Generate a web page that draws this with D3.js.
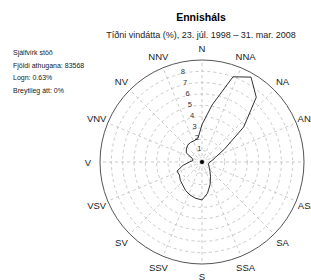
<!DOCTYPE html>
<html>
<head>
<meta charset="utf-8">
<script src="https://cdn.jsdelivr.net/npm/d3@7"></script>
<style>
  body { margin: 0; background: #fff; }
  svg { display: block; font-family: "Liberation Sans", Arial, sans-serif; }
</style>
</head>
<body>
<div id="chart"></div>
<script>
// Wind direction frequency (%) per 10 degree sector
const directions = [0, 10, 20, 30, 40, 50, 60, 70, 80, 90, 100, 110,
    120, 130, 140, 150, 160, 170, 180, 190, 200, 210, 220, 230,
    240, 250, 260, 270, 280, 290, 300, 310, 320, 330, 340, 350];
const frequency = [3.3, 5.1, 8.0, 8.65, 7.45, 4.8, 2.3, 1.3, 0.95, 0.7, 0.6, 0.6,
    0.7, 0.85, 1.1, 1.5, 2.1, 2.8, 3.35, 3.25, 3.1, 2.9, 2.65, 2.5,
    2.3, 2.35, 1.7, 1.1, 0.8, 0.9, 1.6, 1.8, 1.95, 2.0, 2.0, 2.1];

const compassLabels = ['N', 'NNA', 'NA', 'ANA', 'A', 'ASA', 'SA', 'SSA',
    'S', 'SSV', 'SV', 'VSV', 'V', 'VNV', 'NV', 'NNV'];
const ringTicks = [1, 2, 3, 4, 5, 6, 7, 8];
const infoLines = ['Sjálfvirk stöð', 'Fjöldi athugana: 83568', 'Logn: 0.63%', 'Breytileg átt: 0%'];

const width = 311, height = 280;
const cx = 202, cy = 162;
const rMax = 9;

const svg = d3.select('#chart')
    .append('svg')
    .attr('width', width)
    .attr('height', height);

// Titles
svg.append('text')
    .attr('x', 201).attr('y', 21)
    .attr('text-anchor', 'middle')
    .attr('font-size', '10.5px')
    .attr('font-weight', 'bold')
    .attr('fill', '#000')
    .text('Ennisháls');

svg.append('text')
    .attr('x', 201).attr('y', 38)
    .attr('text-anchor', 'middle')
    .attr('font-size', '9px')
    .attr('fill', '#222')
    .text('Tíðni vindátta (%), 23. júl. 1998 – 31. mar. 2008');

// Info text on the left
svg.append('g')
    .selectAll('text')
    .data(infoLines)
    .enter()
    .append('text')
    .attr('x', 13)
    .attr('y', (d, i) => 55 + i * 12.5)
    .attr('font-size', '7px')
    .attr('fill', '#222')
    .text(d => d);

const r = d3.scaleLinear().domain([0, rMax]).range([0, 102]);
const rad = deg => deg * Math.PI / 180;

const g = svg.append('g').attr('transform', `translate(${cx},${cy})`);

// Grid circles
g.append('g')
    .selectAll('circle')
    .data(ringTicks)
    .enter()
    .append('circle')
    .attr('r', d => r(d))
    .attr('fill', 'none')
    .attr('stroke', '#bdbdbd')
    .attr('stroke-width', 0.8)
    .attr('stroke-dasharray', '3,3');

// Radial grid lines
g.append('g')
    .selectAll('line')
    .data(compassLabels)
    .enter()
    .append('line')
    .attr('x1', 0).attr('y1', 0)
    .attr('x2', (d, i) => r(rMax) * Math.sin(rad(i * 22.5)))
    .attr('y2', (d, i) => -r(rMax) * Math.cos(rad(i * 22.5)))
    .attr('stroke', '#bdbdbd')
    .attr('stroke-width', 0.8)
    .attr('stroke-dasharray', '3,3');

// Outer circle
g.append('circle')
    .attr('r', r(rMax))
    .attr('fill', 'none')
    .attr('stroke', '#555')
    .attr('stroke-width', 1);

// Ring labels
g.append('g')
    .selectAll('text')
    .data(ringTicks)
    .enter()
    .append('text')
    .attr('x', d => (r(d) + 2) * Math.sin(rad(348)))
    .attr('y', d => -(r(d) + 2) * Math.cos(rad(348)))
    .attr('text-anchor', 'middle')
    .attr('dominant-baseline', 'central')
    .attr('font-size', '7.5px')
    .attr('fill', '#333')
    .text(d => d);

// Compass labels
g.append('g')
    .selectAll('text')
    .data(compassLabels)
    .enter()
    .append('text')
    .attr('x', (d, i) => 114 * Math.sin(rad(i * 22.5)))
    .attr('y', (d, i) => -114 * Math.cos(rad(i * 22.5)))
    .attr('text-anchor', 'middle')
    .attr('dominant-baseline', 'central')
    .attr('font-size', '9.5px')
    .attr('fill', '#222')
    .text(d => d);

// Frequency polygon
const line = d3.lineRadial()
    .angle((d, i) => rad(directions[i]))
    .radius(d => r(d))
    .curve(d3.curveLinearClosed);

g.append('path')
    .datum(frequency)
    .attr('d', line)
    .attr('fill', 'none')
    .attr('stroke', '#333')
    .attr('stroke-width', 1);

// Calm circle at centre
g.append('circle')
    .attr('r', 5)
    .attr('fill', 'none')
    .attr('stroke', '#bbb')
    .attr('stroke-width', 0.8)
    .attr('stroke-dasharray', '1.5,1.5');

g.append('circle')
    .attr('r', 2)
    .attr('fill', '#000');
</script>
</body>
</html>
